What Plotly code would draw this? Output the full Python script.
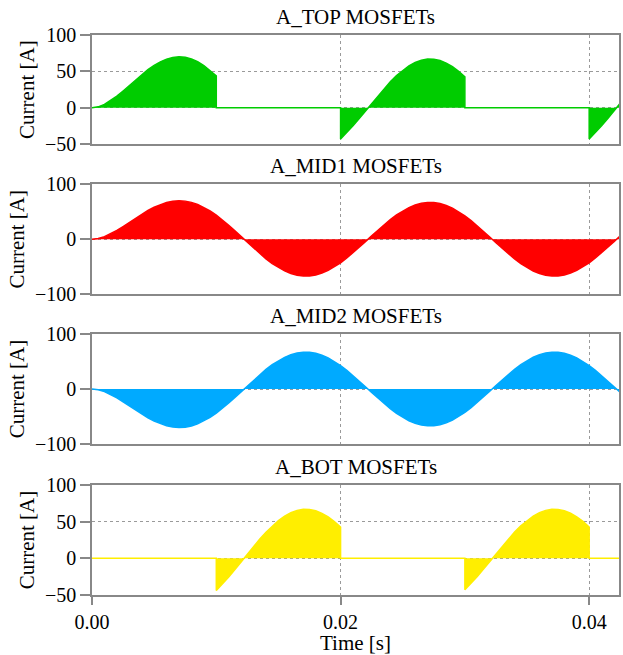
import plotly.graph_objects as go
from plotly.subplots import make_subplots

# Phase-leg current sampled every 0.5 ms (A)
sample_period = 0.0005
i_phase = [
    0.0, 1.4, 4.8, 9.9, 16.1, 23.2, 30.7, 38.3, 45.6, 52.4,
    58.3, 63.2, 66.9, 69.2, 70.1, 69.4, 67.1, 63.3, 58.1, 51.5,
    43.8, 35.0, 25.4, 15.2, 4.7, -5.9, -16.3, -26.3, -35.7, -44.1,
    -51.5, -57.5, -62.2, -65.3, -66.8, -66.6, -64.8, -61.4, -56.5, -50.2,
    -42.7, -34.1, -24.7, -14.6, -4.2, 6.3, 16.7, 26.6, 35.9, 44.3,
    51.6, 57.7, 62.3, 65.4, 66.9, 66.7, 64.9, 61.5, 56.6, 50.3,
    42.7, 34.1, 24.7, 14.6, 4.2, -6.3, -16.7, -26.6, -35.9, -44.3,
    -51.6, -57.7, -62.3, -65.4, -66.9, -66.7, -64.9, -61.5, -56.6, -50.3,
    -42.7, -34.1, -24.7, -14.6, -4.2, 6.3,
]
time_s = [round(k * sample_period, 4) for k in range(len(i_phase))]

# Conduction windows (s) of the outer switches
top_windows = [(0.00, 0.01), (0.02, 0.03), (0.04, 0.05)]
bot_windows = [(0.01, 0.02), (0.03, 0.04)]

titles = ["A_TOP MOSFETs", "A_MID1 MOSFETs", "A_MID2 MOSFETs", "A_BOT MOSFETs"]
colors = ["#00CC00", "#FF0000", "#00AAFF", "#FFEE00"]
y_ranges = [[-50, 100], [-100, 100], [-100, 100], [-50, 100]]
y_ticks = [[-50, 0, 50, 100], [-100, 0, 100], [-100, 0, 100], [-50, 0, 50, 100]]
x_ticks = [0.0, 0.02, 0.04]


def gated(t, y, windows):
    """Current through a switch that only conducts inside the given windows."""
    xs, ys = [], []
    prev_on = None
    for ti, yi in zip(t, y):
        on = any(a <= ti + 1e-9 < b for a, b in windows)
        if prev_on is not None and on != prev_on:
            xs.append(ti)
            ys.append(yi if prev_on else 0.0)
        xs.append(ti)
        ys.append(yi if on else 0.0)
        prev_on = on
    return xs, ys


neg_phase = [-v for v in i_phase]
series = [
    gated(time_s, i_phase, top_windows),
    (time_s, i_phase),
    (time_s, neg_phase),
    gated(time_s, neg_phase, bot_windows),
]

# Panel domains (paper fraction)
domains = [
    [0.8048, 1.0],
    [0.5370, 0.7334],
    [0.2696, 0.4661],
    [0.0, 0.1964],
]

fig = make_subplots(rows=4, cols=1, shared_xaxes=True)

font_family = "Liberation Serif"
axis_color = "#888888"
grid_color = "#9a9a9a"
tick_font = dict(family=font_family, size=20, color="black")
text_font = dict(family=font_family, size=21, color="black")

for r, ((xs, ys), col) in enumerate(zip(series, colors), start=1):
    fig.add_trace(
        go.Scatter(
            x=xs, y=ys, mode="lines", fill="tozeroy",
            fillcolor=col, line=dict(color=col, width=1.5),
            showlegend=False, hoverinfo="skip",
        ),
        row=r, col=1,
    )

for r in range(1, 5):
    yname = "yaxis" if r == 1 else f"yaxis{r}"
    xname = "xaxis" if r == 1 else f"xaxis{r}"
    fig.layout[yname].update(
        domain=domains[r - 1],
        range=y_ranges[r - 1],
        tickvals=y_ticks[r - 1],
        ticks="outside", ticklen=10, tickcolor=axis_color, tickwidth=1.5,
        showline=True, mirror=True, linecolor=axis_color, linewidth=1.5,
        showgrid=True, gridcolor=grid_color, griddash="dot", gridwidth=1,
        zeroline=False,
        title=dict(text="Current [A]", standoff=5, font=text_font),
        tickfont=tick_font,
    )
    fig.layout[xname].update(
        range=[0, 0.0424],
        tickvals=x_ticks,
        tickformat=".2f",
        showline=True, mirror=True, linecolor=axis_color, linewidth=1.5,
        showgrid=True, gridcolor=grid_color, griddash="dot", gridwidth=1,
        zeroline=False,
        showticklabels=(r == 4),
        ticks="outside" if r == 4 else "",
        ticklen=8, tickcolor=axis_color, tickwidth=1.5,
        tickfont=tick_font,
    )
    fig.add_annotation(
        text=titles[r - 1], xref="paper", yref="paper",
        x=0.5, y=domains[r - 1][1], xanchor="center", yanchor="bottom",
        yshift=4, showarrow=False,
        font=text_font,
    )

fig.layout.xaxis4.title = dict(text="Time [s]", standoff=1, font=text_font)

fig.update_layout(
    width=623, height=655,
    margin=dict(l=92, r=2, t=35, b=60),
    paper_bgcolor="white", plot_bgcolor="white",
)

fig.write_html("out.html")
